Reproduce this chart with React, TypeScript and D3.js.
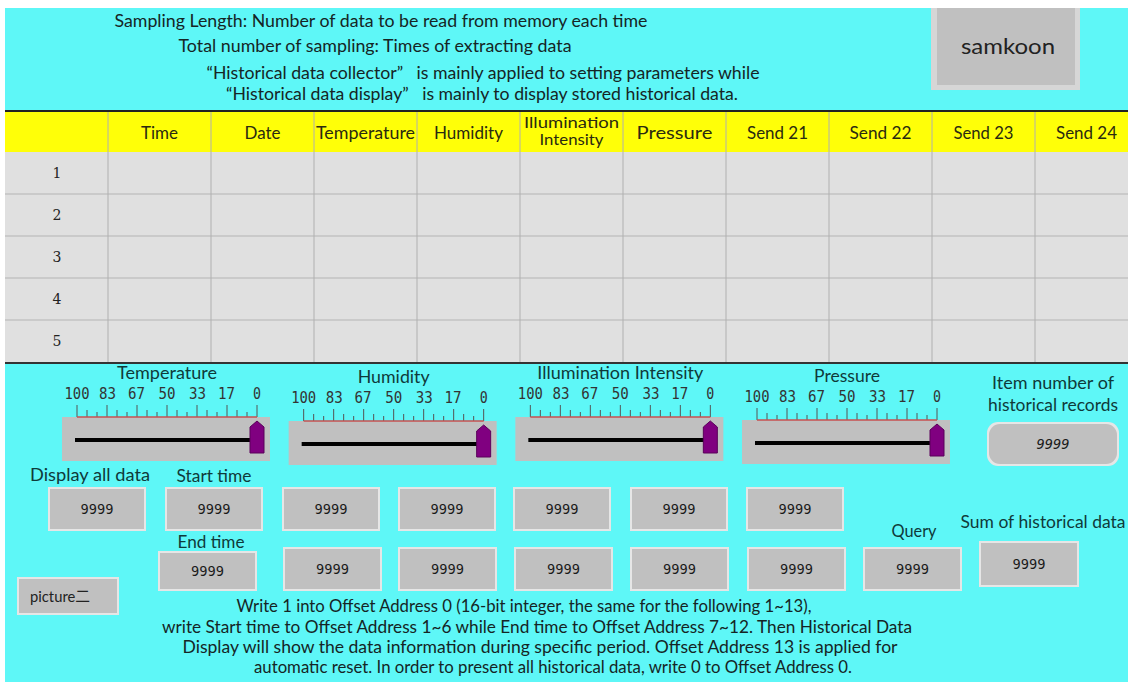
import React from "react";
import * as d3 from "d3";

const W = 1128;
const H = 682;

// ---------- data ----------
const introLines = [
  "Sampling Length: Number of data to be read from memory each time",
  "Total number of sampling: Times of extracting data",
  "\u201cHistorical data collector\u201d   is mainly applied to setting parameters while",
  "\u201cHistorical data display\u201d   is mainly to display stored historical data.",
];
const headerCols = ["", "Time", "Date", "Temperature", "Humidity", "Illumination|Intensity", "Pressure", "Send 21", "Send 22", "Send 23", "Send 24"];
const rowLabels = ["1", "2", "3", "4", "5"];
const sliderTitles = ["Temperature", "Humidity", "Illumination Intensity", "Pressure"];
const sliderTickLabels = [100, 83, 67, 50, 33, 17, 0];
const sliderValues = [0, 0, 0, 0];
const row1Values = ["9999", "9999", "9999", "9999", "9999", "9999", "9999"];
const row2Values = ["9999", "9999", "9999", "9999", "9999", "9999", "9999"];
const recordCount = "9999";
const sumValue = "9999";
const noteLines = [
  "Write 1 into Offset Address 0 (16-bit integer, the same for the following 1~13),",
  "write Start time to Offset Address 1~6 while End time to Offset Address 7~12. Then Historical Data",
  "Display will show the data information during specific period. Offset Address 13 is applied for",
  "automatic reset. In order to present all historical data, write 0 to Offset Address 0.",
];

// ---------- layout / style ----------
const CYAN = "#5ef7f7";
const YELLOW = "#ffff08";
const GRID = "#e0e0e0";
const BOX = "#c0c0c0";
const BOX_EDGE = "#e6e6e6";
const LABEL = "#0f3a3a";
const SANS = "Lato, 'Open Sans', sans-serif";
const MONO = "'DejaVu Sans Mono', monospace";

const introPos = [
  { cx: 381, y: 27, len: 533 },
  { cx: 375, y: 52, len: 393 },
  { cx: 483, y: 79, len: 553 },
  { cx: 482, y: 100, len: 512 },
];
const notePos = [
  { cx: 524, y: 612, len: 575 },
  { cx: 537, y: 633, len: 750 },
  { cx: 540, y: 653, len: 715 },
  { cx: 553, y: 673, len: 598 },
];
const headerWidths: Record<string, number> = {
  Time: 37, Date: 36, Temperature: 99, Humidity: 69, Pressure: 76,
  "Send 21": 61, "Send 22": 62, "Send 23": 60, "Send 24": 61,
  Illumination: 95, Intensity: 64,
};
const sliderTitleWidths = [100, 72, 166, 66];

function Label({ x, y, w, children, size = 17.5, fill = LABEL, weight = 400 }: any) {
  return (
    <text x={x} y={y} textAnchor="middle" fontFamily={SANS} fontSize={size} fill={fill} fontWeight={weight} textLength={w} lengthAdjust="spacingAndGlyphs">
      {children}
    </text>
  );
}

function Box({ x, y, w, h, text, rx = 0, italic = false }: any) {
  return (
    <g>
      <rect x={x} y={y} width={w} height={h} fill={BOX_EDGE} rx={rx} />
      <rect x={x + 2} y={y + 2} width={w - 4} height={h - 4} fill={BOX} rx={rx} />
      <text
        x={x + w / 2}
        y={y + h / 2 + 5}
        textAnchor="middle"
        fontFamily={MONO}
        fontSize={14}
        fontStyle={italic ? "italic" : "normal"}
        fill="#1a1a1a"
        textLength={33}
        lengthAdjust="spacingAndGlyphs"
      >
        {text}
      </text>
    </g>
  );
}

function Slider({ bx, by, title, titleW, value }: any) {
  const bw = 208;
  const bh = 44;
  const sx = d3.scaleLinear().domain([100, 0]).range([bx + 15, bx + 195]);
  const minorTicks = d3.range(0, 100.0001, 100 / 18);
  const tx = sx(value);
  const lineY = by + 23;
  const thumb = `M${tx - 7},${by + 36} L${tx - 7},${by + 10} L${tx},${by + 4} L${tx + 7},${by + 10} L${tx + 7},${by + 36} Z`;
  return (
    <g>
      <Label x={(sx(100) + sx(0)) / 2} y={by - 38} w={titleW} size={17.5}>{title}</Label>
      {sliderTickLabels.map((t) => (
        <text key={t} x={sx(t)} y={by - 18} textAnchor="middle" fontFamily={MONO} fontSize={16} fill="#333" textLength={t === 100 ? 25 : t === 0 ? 8 : 17} lengthAdjust="spacingAndGlyphs">
          {t}
        </text>
      ))}
      <rect x={bx} y={by} width={bw} height={bh} fill={BOX} />
      {minorTicks.map((t, i) => (
        <line key={i} x1={sx(t)} x2={sx(t)} y1={by} y2={by - (i % 3 === 0 ? 12 : i % 3 === 1 ? 5 : 7)} stroke="#555" strokeWidth={1} />
      ))}
      <line x1={sx(100)} x2={sx(0)} y1={by} y2={by} stroke="#c85050" strokeWidth={1.5} />
      <line x1={sx(100) - 2} x2={tx} y1={lineY} y2={lineY} stroke="#000" strokeWidth={4} />
      <path d={thumb} fill="#800080" stroke="#5a005a" strokeWidth={1} />
    </g>
  );
}

export default function App() {
  const colX = d3.scaleBand<number>().domain(d3.range(headerCols.length)).range([5, 5 + 103 * headerCols.length]).padding(0);
  const rowY = d3.scaleBand<string>().domain(rowLabels).range([152, 362]).padding(0);
  const sliderX = d3.scalePoint<string>().domain(sliderTitles).range([62, 742]);
  const sliderDy = [417, 421, 417, 420];
  const boxX1 = [48, 165, 282, 398, 513, 630, 746];
  const boxX2 = [158, 283, 398, 514, 630, 747, 863];

  return (
    <svg width={W} height={H} style={{ position: "absolute", left: 0, top: 0, background: "#fff" }}>
      <rect x={5} y={8} width={W - 5} height={H - 8} fill={CYAN} />

      {/* intro text */}
      {introLines.map((l, i) => (
        <text key={i} x={introPos[i].cx} y={introPos[i].y} textAnchor="middle" fontFamily={SANS} fontSize={17} fill="#152525" textLength={introPos[i].len} lengthAdjust="spacingAndGlyphs" style={{ whiteSpace: "pre" }}>
          {l}
        </text>
      ))}

      {/* samkoon button */}
      <rect x={931} y={8} width={149} height={82} fill="#d6d6d6" />
      <rect x={937} y={8} width={138} height={77} fill={BOX} />
      <Label x={1008} y={54} w={94} size={22} fill="#222">samkoon</Label>

      {/* table */}
      <rect x={5} y={112} width={W - 5} height={40} fill={YELLOW} />
      <rect x={5} y={152} width={W - 5} height={211} fill={GRID} />
      <line x1={5} x2={W} y1={111} y2={111} stroke="#222" strokeWidth={2} />
      <line x1={5} x2={W} y1={363} y2={363} stroke="#333" strokeWidth={2} />
      {rowLabels.slice(1).map((r) => (
        <line key={r} x1={5} x2={W} y1={rowY(r)!} y2={rowY(r)!} stroke="#b4b4b4" strokeWidth={1} />
      ))}
      {headerCols.slice(1).map((_, i) => (
        <line key={i} x1={colX(i + 1)!} x2={colX(i + 1)!} y1={112} y2={362} stroke="#b0b0b0" strokeWidth={1} />
      ))}
      {headerCols.map((h, i) => {
        if (!h) return null;
        const cx = colX(i)! + colX.bandwidth() / 2;
        const parts = h.split("|");
        if (parts.length === 2) {
          return (
            <g key={i}>
              <Label x={cx} y={128} w={headerWidths[parts[0]]} size={14.5} fill="#2a2a10">{parts[0]}</Label>
              <Label x={cx} y={145} w={headerWidths[parts[1]]} size={14.5} fill="#2a2a10">{parts[1]}</Label>
            </g>
          );
        }
        return (
          <Label key={i} x={cx} y={139} w={headerWidths[h]} size={17.5} fill="#2a2a10">{h}</Label>
        );
      })}
      {rowLabels.map((r) => (
        <text key={r} x={colX(0)! + 52} y={rowY(r)! + rowY.bandwidth() / 2 + 5} textAnchor="middle" fontFamily="'DejaVu Serif', serif" fontSize={14} fill="#222">{r}</text>
      ))}

      {/* sliders */}
      {sliderTitles.map((t, i) => (
        <Slider key={t} bx={sliderX(t)!} by={sliderDy[i]} title={t} titleW={sliderTitleWidths[i]} value={sliderValues[i]} />
      ))}

      {/* item number */}
      <Label x={1053} y={389} w={122}>Item number of</Label>
      <Label x={1053} y={411} w={130}>historical records</Label>
      <Box x={987} y={422} w={132} h={44} rx={11} text={recordCount} italic />

      {/* labels */}
      <Label x={90} y={481} w={120}>Display all data</Label>
      <Label x={214} y={482} w={75}>Start time</Label>
      <Label x={211} y={548} w={67}>End time</Label>
      <Label x={914} y={537} w={45}>Query</Label>
      <Label x={1043} y={528} w={165}>Sum of historical data</Label>

      {row1Values.map((v, i) => (
        <Box key={"a" + i} x={boxX1[i]} y={487} w={98} h={44} text={v} />
      ))}
      {row2Values.map((v, i) => (
        <Box key={"b" + i} x={boxX2[i]} y={i === 0 ? 551 : 547} w={99} h={i === 0 ? 40 : 44} text={v} />
      ))}
      <Box x={979} y={541} w={100} h={46} text={sumValue} />

      {/* picture button */}
      <rect x={17} y={577} width={102} height={38} fill={BOX_EDGE} />
      <rect x={19} y={579} width={98} height={34} fill={BOX} />
      <text x={30} y={602} fontFamily={`${SANS}, 'Noto Sans CJK SC'`} fontSize={15.5} fill="#222" textLength={60} lengthAdjust="spacingAndGlyphs">picture二</text>

      {/* notes */}
      {noteLines.map((l, i) => (
        <text key={i} x={notePos[i].cx} y={notePos[i].y} textAnchor="middle" fontFamily={SANS} fontSize={17} fill="#152525" textLength={notePos[i].len} lengthAdjust="spacingAndGlyphs">
          {l}
        </text>
      ))}
    </svg>
  );
}
